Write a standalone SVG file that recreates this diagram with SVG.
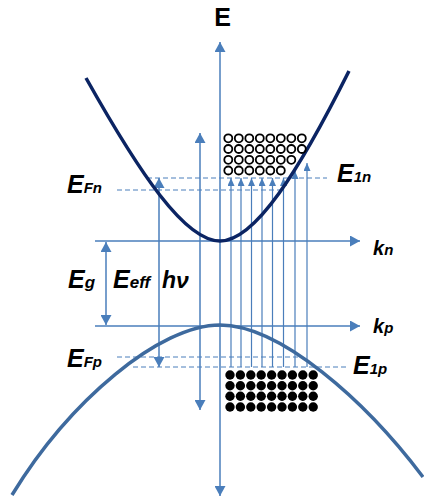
<svg xmlns="http://www.w3.org/2000/svg" width="424" height="498" viewBox="0 0 424 498">
<style>
.ln{stroke:#4A7EBB;stroke-width:1.5;fill:none}
.tr{stroke:#4A7EBB;stroke-width:1.2;fill:none}
.ds{stroke:#4A7EBB;stroke-width:1;stroke-dasharray:5,3;fill:none}
.cb{stroke:#0B2463;stroke-width:3.5;fill:none}
.vb{stroke:#3E6A9E;stroke-width:3.5;fill:none}
.lab{font-family:"Liberation Sans",Arial,sans-serif;font-weight:bold;font-style:italic;fill:#000}
.hole{fill:none;stroke:#000;stroke-width:1.8}
.el{fill:#000}
</style>
<defs>
<marker id="ah" viewBox="0 0 10 11" refX="10" refY="5.5" markerWidth="10" markerHeight="11" markerUnits="userSpaceOnUse" orient="auto-start-reverse">
<path d="M0,0 L10,5.5 L0,11 z" fill="#4A7EBB"/>
</marker>
<marker id="as" viewBox="0 0 8 7" refX="8" refY="3.5" markerWidth="8" markerHeight="7" markerUnits="userSpaceOnUse" orient="auto-start-reverse">
<path d="M0,0 L8,3.5 L0,7 z" fill="#4A7EBB"/>
</marker>
</defs>

<g id="connectors">
<line class="ln" x1="220" y1="42" x2="220" y2="496" marker-start="url(#ah)" marker-end="url(#ah)"/>
<line class="ln" x1="200" y1="133" x2="200" y2="410" marker-start="url(#ah)" marker-end="url(#ah)"/>
<line class="ln" x1="95" y1="241" x2="360" y2="241" marker-end="url(#ah)"/>
<line class="ln" x1="95" y1="326" x2="360" y2="326" marker-end="url(#ah)"/>
<line class="ln" x1="106" y1="242" x2="106" y2="325" marker-start="url(#ah)" marker-end="url(#ah)"/>
<line class="ln" x1="159" y1="178" x2="159" y2="367" marker-start="url(#ah)" marker-end="url(#ah)"/>
<line class="ds" x1="147" y1="178" x2="327" y2="178"/>
<line class="ds" x1="117" y1="190" x2="283" y2="190"/>
<line class="ds" x1="117" y1="357" x2="300" y2="357"/>
<line class="ds" x1="133" y1="367" x2="347" y2="367"/>
<line class="tr" x1="231" y1="367" x2="231" y2="178" marker-end="url(#as)"/>
<line class="tr" x1="241" y1="367" x2="241" y2="178" marker-end="url(#as)"/>
<line class="tr" x1="251.5" y1="367" x2="251.5" y2="178" marker-end="url(#as)"/>
<line class="tr" x1="262" y1="367" x2="262" y2="178" marker-end="url(#as)"/>
<line class="tr" x1="272.5" y1="367" x2="272.5" y2="178" marker-end="url(#as)"/>
<line class="tr" x1="283.5" y1="367" x2="283.5" y2="178" marker-end="url(#as)"/>
<line class="tr" x1="295" y1="367" x2="295" y2="171" marker-end="url(#as)"/>
<line class="tr" x1="307" y1="367" x2="307" y2="163" marker-end="url(#as)"/>
</g>

<g id="conduction-band">
<path class="cb" d="M86,78 C140,174 185,241 220,241 C255,241 299,171 349,71"/>
</g>
<g id="valence-band">
<path class="vb" d="M12,495 C70,400 160,325 220,325 C280,325 365,400 423,477"/>
</g>

<g id="electrons-holes-top">
<circle class="hole" cx="228.3" cy="138.3" r="4"/><circle class="hole" cx="238.8" cy="138.3" r="4"/><circle class="hole" cx="249.3" cy="138.3" r="4"/><circle class="hole" cx="259.8" cy="138.3" r="4"/><circle class="hole" cx="270.3" cy="138.3" r="4"/><circle class="hole" cx="280.8" cy="138.3" r="4"/><circle class="hole" cx="291.3" cy="138.3" r="4"/><circle class="hole" cx="301.8" cy="138.3" r="4"/>
<circle class="hole" cx="228.3" cy="149" r="4"/><circle class="hole" cx="238.8" cy="149" r="4"/><circle class="hole" cx="249.3" cy="149" r="4"/><circle class="hole" cx="259.8" cy="149" r="4"/><circle class="hole" cx="270.3" cy="149" r="4"/><circle class="hole" cx="280.8" cy="149" r="4"/><circle class="hole" cx="291.3" cy="149" r="4"/><circle class="hole" cx="301.8" cy="149" r="4"/>
<circle class="hole" cx="228.3" cy="159.8" r="4"/><circle class="hole" cx="238.8" cy="159.8" r="4"/><circle class="hole" cx="249.3" cy="159.8" r="4"/><circle class="hole" cx="259.8" cy="159.8" r="4"/><circle class="hole" cx="270.3" cy="159.8" r="4"/><circle class="hole" cx="280.8" cy="159.8" r="4"/><circle class="hole" cx="291.3" cy="159.8" r="4"/>
<circle class="hole" cx="228.3" cy="170.5" r="4"/><circle class="hole" cx="238.8" cy="170.5" r="4"/><circle class="hole" cx="249.3" cy="170.5" r="4"/><circle class="hole" cx="259.8" cy="170.5" r="4"/><circle class="hole" cx="270.3" cy="170.5" r="4"/><circle class="hole" cx="280.8" cy="170.5" r="4"/>
</g>

<g id="dots-bottom">
<g id="row1">
<circle class="el" cx="230" cy="375" r="4.7"/><circle class="el" cx="240.4" cy="375" r="4.7"/><circle class="el" cx="250.8" cy="375" r="4.7"/><circle class="el" cx="261.2" cy="375" r="4.7"/><circle class="el" cx="271.6" cy="375" r="4.7"/><circle class="el" cx="282" cy="375" r="4.7"/><circle class="el" cx="292.4" cy="375" r="4.7"/><circle class="el" cx="302.8" cy="375" r="4.7"/><circle class="el" cx="313.2" cy="375" r="4.7"/>
</g>
<g id="row2">
<circle class="el" cx="230" cy="385.7" r="4.7"/><circle class="el" cx="240.4" cy="385.7" r="4.7"/><circle class="el" cx="250.8" cy="385.7" r="4.7"/><circle class="el" cx="261.2" cy="385.7" r="4.7"/><circle class="el" cx="271.6" cy="385.7" r="4.7"/><circle class="el" cx="282" cy="385.7" r="4.7"/><circle class="el" cx="292.4" cy="385.7" r="4.7"/><circle class="el" cx="302.8" cy="385.7" r="4.7"/><circle class="el" cx="313.2" cy="385.7" r="4.7"/>
</g>
<g id="row3">
<circle class="el" cx="230" cy="396.3" r="4.7"/><circle class="el" cx="240.4" cy="396.3" r="4.7"/><circle class="el" cx="250.8" cy="396.3" r="4.7"/><circle class="el" cx="261.2" cy="396.3" r="4.7"/><circle class="el" cx="271.6" cy="396.3" r="4.7"/><circle class="el" cx="282" cy="396.3" r="4.7"/><circle class="el" cx="292.4" cy="396.3" r="4.7"/><circle class="el" cx="302.8" cy="396.3" r="4.7"/><circle class="el" cx="313.2" cy="396.3" r="4.7"/>
</g>
<g id="row4">
<circle class="el" cx="230" cy="407" r="4.7"/><circle class="el" cx="240.4" cy="407" r="4.7"/><circle class="el" cx="250.8" cy="407" r="4.7"/><circle class="el" cx="261.2" cy="407" r="4.7"/><circle class="el" cx="271.6" cy="407" r="4.7"/><circle class="el" cx="282" cy="407" r="4.7"/><circle class="el" cx="292.4" cy="407" r="4.7"/><circle class="el" cx="302.8" cy="407" r="4.7"/><circle class="el" cx="313.2" cy="407" r="4.7"/>
</g>
</g>

<g id="labels">
<text x="222.5" y="26" text-anchor="middle" font-family="Liberation Sans, Arial, sans-serif" font-weight="bold" font-size="25" fill="#000">E</text>
<text class="lab" x="67" y="193"><tspan font-size="25">E</tspan><tspan font-size="15">Fn</tspan></text>
<text class="lab" x="337" y="182"><tspan font-size="25">E</tspan><tspan font-size="15">1n</tspan></text>
<text class="lab" x="68" y="288"><tspan font-size="25">E</tspan><tspan font-size="17">g</tspan></text>
<text class="lab" x="113" y="288"><tspan font-size="25">E</tspan><tspan font-size="17">eff</tspan></text>
<text class="lab" x="162" y="288" font-size="23">hν</text>
<text class="lab" x="373" y="255"><tspan font-size="20">k</tspan><tspan font-size="15">n</tspan></text>
<text class="lab" x="373" y="333"><tspan font-size="20">k</tspan><tspan font-size="15">p</tspan></text>
<text class="lab" x="67" y="367"><tspan font-size="25">E</tspan><tspan font-size="15">Fp</tspan></text>
<text class="lab" x="353" y="374"><tspan font-size="25">E</tspan><tspan font-size="15">1p</tspan></text>
</g>
</svg>
